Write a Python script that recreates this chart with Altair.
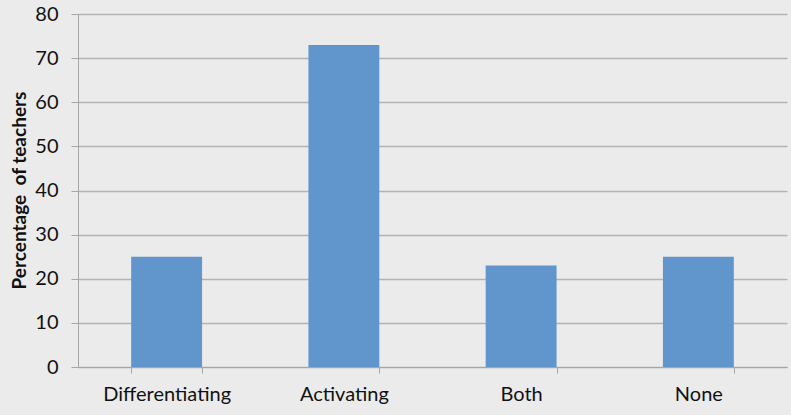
import altair as alt
import pandas as pd

# Survey results: share of teachers per strategy group
categories = ["Differentiating", "Activating", "Both", "None"]
percentages = [25, 73, 23, 25]

df = pd.DataFrame({"group": categories, "pct": percentages})

FONT = "Lato"
AXIS_GREY = "#a6a6a6"

bars = alt.Chart(df).mark_bar(color="#6096CB").encode(
    x=alt.X(
        "group:N",
        sort=categories,
        title=None,
        scale=alt.Scale(paddingInner=0.6, paddingOuter=0.3),
        axis=alt.Axis(
            labelAngle=0,
            labelFontSize=20,
            labelFont=FONT,
            labelColor="#111111",
            labelPadding=11,
            tickBand="extent",
            tickSize=6,
            tickColor=AXIS_GREY,
            domainColor=AXIS_GREY,
            grid=False,
        ),
    ),
    y=alt.Y(
        "pct:Q",
        # non-breaking space keeps the wide gap between the first two words
        title="Percentage\u00a0 of teachers",
        scale=alt.Scale(domain=[0, 80], nice=False),
        axis=alt.Axis(
            values=list(range(0, 81, 10)),
            labelFontSize=20,
            labelFont=FONT,
            labelColor="#111111",
            labelPadding=13,
            tickSize=7,
            tickColor=AXIS_GREY,
            domainColor=AXIS_GREY,
            gridColor="#b3b3b3",
            gridWidth=1.3,
            titleFont=FONT,
            titleFontSize=19,
            titleFontWeight="bold",
            titleColor="#111111",
            titleX=-49,
            titleY=176,
        ),
    ),
)

chart = bars.properties(
    width=709,
    height=353,
    background="#ebebeb",
    autosize=alt.AutoSizeParams(type="none"),
    padding={"left": 78, "top": 14, "right": 4, "bottom": 48},
).configure_view(stroke=None)

chart.save("out.html", embed_options={"renderer": "svg", "actions": False})
